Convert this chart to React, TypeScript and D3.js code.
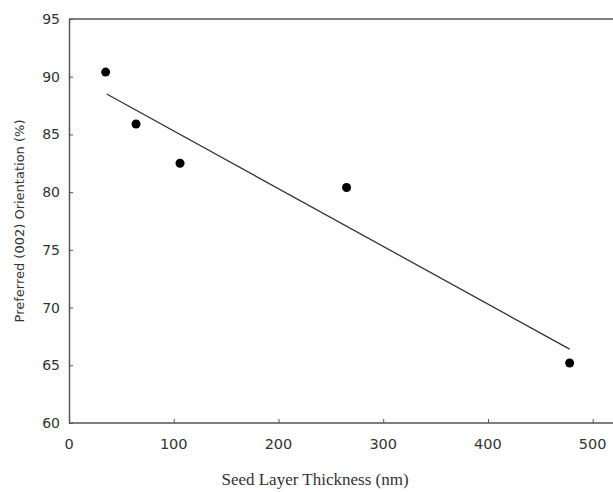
import React, { useEffect, useRef } from 'react';
import * as d3 from 'd3';

// data
const thickness = [35, 64, 106, 265, 478];
const orientation = [90.4, 85.9, 82.5, 80.4, 65.2];
// trend line end points
const trendX = [36, 478];
const trendY = [88.5, 66.4];
const xTicks = [0, 100, 200, 300, 400, 500];
const yTicks = [60, 65, 70, 75, 80, 85, 90, 95];

const W = 613;
const H = 492;

export default function App() {
  const ref = useRef<SVGSVGElement>(null);

  useEffect(() => {
    const svg = d3.select(ref.current);
    svg.selectAll('*').remove();

    const x = d3.scaleLinear().domain([0, 500]).range([69, 592.7]);
    const y = d3.scaleLinear().domain([60, 95]).range([423, 19]);
    const axisColor = '#555';

    // top border
    svg.append('line')
      .attr('x1', x(0)).attr('x2', W)
      .attr('y1', y(95)).attr('y2', y(95))
      .attr('stroke', axisColor).attr('stroke-width', 1.5);

    // x axis, ticks pointing inward
    const gx = svg.append('g')
      .attr('transform', `translate(0,${y(60)})`)
      .call(d3.axisTop(x).tickValues(xTicks).tickSize(4).tickSizeOuter(0).tickFormat(() => ''));
    gx.select('.domain').attr('d', `M${x(0)},0H${W}`)
      .attr('stroke', axisColor).attr('stroke-width', 1.5);
    gx.selectAll('.tick line').attr('stroke', axisColor);

    svg.append('g').selectAll('text')
      .data(xTicks)
      .join('text')
      .attr('x', d => x(d))
      .attr('y', 449)
      .attr('text-anchor', 'middle')
      .attr('font-family', 'DejaVu Sans, sans-serif')
      .attr('font-size', 14.5)
      .attr('fill', '#333')
      .text(d => d);

    // y axis, ticks pointing inward
    const gy = svg.append('g')
      .attr('transform', `translate(${x(0)},0)`)
      .call(d3.axisRight(y).tickValues(yTicks).tickSize(4).tickSizeOuter(0).tickFormat(() => ''));
    gy.select('.domain').attr('stroke', axisColor).attr('stroke-width', 1.5);
    gy.selectAll('.tick line').attr('stroke', axisColor);

    svg.append('g').selectAll('text')
      .data(yTicks)
      .join('text')
      .attr('x', x(0) - 9)
      .attr('y', d => y(d) + 5)
      .attr('text-anchor', 'end')
      .attr('font-family', 'DejaVu Sans, sans-serif')
      .attr('font-size', 14)
      .attr('fill', '#333')
      .text(d => d);

    // trend line
    const line = d3.line<number>().x(d => x(trendX[d])).y(d => y(trendY[d]));
    svg.append('path')
      .attr('d', line([0, 1]))
      .attr('fill', 'none')
      .attr('stroke', '#333')
      .attr('stroke-width', 1.3);

    // points
    svg.append('g').selectAll('circle')
      .data(thickness)
      .join('circle')
      .attr('cx', d => x(d))
      .attr('cy', (d, i) => y(orientation[i]))
      .attr('r', 4.5)
      .attr('fill', '#000');

    // titles
    svg.append('text')
      .attr('x', 315)
      .attr('y', 485)
      .attr('text-anchor', 'middle')
      .attr('font-family', 'Liberation Serif, serif')
      .attr('font-size', 17)
      .attr('fill', '#333')
      .text('Seed Layer Thickness (nm)');

    svg.append('text')
      .attr('transform', `translate(24,221) rotate(-90)`)
      .attr('text-anchor', 'middle')
      .attr('font-family', 'DejaVu Sans, sans-serif')
      .attr('font-size', 13)
      .attr('fill', '#333')
      .text('Preferred (002) Orientation (%)');
  }, []);

  return (
    <svg ref={ref} width={W} height={H}
      style={{ position: 'absolute', left: 0, top: 0, background: '#fff' }} />
  );
}
